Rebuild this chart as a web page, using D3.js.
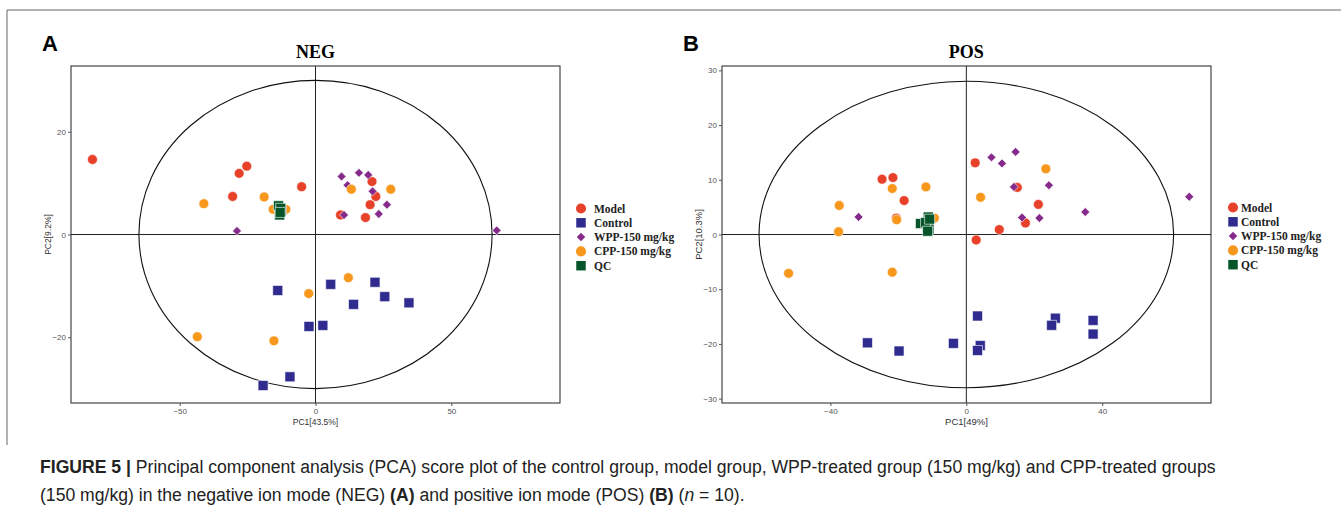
<!DOCTYPE html>
<html>
<head>
<meta charset="utf-8">
<script src="https://cdn.jsdelivr.net/npm/d3@7"></script>
<style>
	body { margin: 0; background: #fff; }
	svg { display: block; }
</style>
</head>
<body>
<svg id="figure" width="1341" height="511"></svg>
<script>
// groups shown in both panels
const groups = ["Model", "Control", "WPP-150 mg/kg", "CPP-150 mg/kg", "QC"];
const groupColors = ["#e8412a", "#2f2b8f", "#862a8c", "#f7981d", "#06552a"];
const groupShapes = ["circle", "square", "diamond", "circle", "square"];

// NEG scores [PC1, PC2]
const negModel = [[-82.1, 14.6], [-25.3, 13.3], [-28.1, 11.9], [-30.5, 7.4], [-5.1, 9.3],
	[20.8, 10.3], [22.2, 7.4], [20.1, 5.8], [9.2, 3.8], [18.4, 3.3]];
const negControl = [[-13.9, -10.9], [-2.4, -17.9], [-9.4, -27.7], [-19.3, -29.4], [5.6, -9.7],
	[21.9, -9.3], [25.5, -12.1], [14.0, -13.6], [34.4, -13.3], [2.7, -17.7]];
const negWPP = [[-28.9, 0.7], [9.6, 11.3], [16.0, 12.0], [19.4, 11.6], [11.8, 9.6],
	[21.0, 8.4], [26.3, 5.8], [10.5, 3.8], [23.3, 4.0], [66.7, 0.8]];
const negCPP = [[-41.1, 6.0], [-18.9, 7.3], [-15.6, 4.9], [-10.9, 4.9], [13.2, 8.8],
	[27.7, 8.8], [-2.5, -11.5], [12.1, -8.4], [-43.5, -19.9], [-15.3, -20.7]];
const negQC = [[-13.6, 5.6], [-12.6, 4.6], [-13.2, 3.8], [-12.8, 5.1], [-13.0, 4.3]];

// POS scores [PC1, PC2]
const posModel = [[-24.8, 10.1], [-21.6, 10.4], [-18.3, 6.2], [-20.6, 3.0], [2.6, 13.1],
	[2.9, -1.0], [15.0, 8.6], [21.2, 5.5], [17.4, 2.1], [9.7, 0.9]];
const posControl = [[-29.1, -19.8], [-19.8, -21.3], [-3.8, -19.9], [3.3, -14.9], [4.1, -20.3],
	[3.3, -21.2], [26.2, -15.3], [25.1, -16.6], [37.3, -15.7], [37.3, -18.2]];
const posWPP = [[-31.7, 3.2], [7.4, 14.1], [10.5, 13.0], [14.5, 15.1], [14.0, 8.7],
	[24.3, 9.0], [35.0, 4.1], [65.6, 6.9], [16.4, 3.1], [21.5, 3.0]];
const posCPP = [[-21.8, 8.4], [-11.9, 8.7], [-37.4, 5.3], [-20.5, 2.7], [-9.4, 3.0],
	[-37.6, 0.5], [4.2, 6.8], [23.4, 12.0], [-52.3, -7.1], [-21.8, -6.9]];
const posQC = [[-13.5, 2.0], [-11.2, 3.2], [-11.0, 1.0], [-12.0, 2.2], [-10.8, 2.8], [-11.4, 0.6]];

const negTicksX = [-50, 0, 50], negTicksY = [-20, 0, 20];
const posTicksX = [-40, 0, 40], posTicksY = [-30, -20, -10, 0, 10, 20, 30];

const svg = d3.select("#figure");

function shapePath(shape) {
	if (shape === "circle") return d3.symbol().type(d3.symbolCircle).size(76)();
	if (shape === "square") return d3.symbol().type(d3.symbolSquare).size(100)();
	return d3.symbol().type(d3.symbolSquare).size(40)();
}

function drawPanel(cfg) {
	const g = svg.append("g");
	const x = d3.scaleLinear().domain(cfg.xDomain).range([cfg.left, cfg.right]);
	const y = d3.scaleLinear().domain(cfg.yDomain).range([cfg.bottom, cfg.top]);

	// frame
	g.append("rect")
		.attr("x", cfg.left).attr("y", cfg.top)
		.attr("width", cfg.right - cfg.left).attr("height", cfg.bottom - cfg.top)
		.attr("fill", "none").attr("stroke", "#333").attr("stroke-width", 1.1);

	// zero lines
	g.append("line")
		.attr("x1", x(0)).attr("x2", x(0)).attr("y1", cfg.top).attr("y2", cfg.bottom)
		.attr("stroke", "#222").attr("stroke-width", 1);
	g.append("line")
		.attr("x1", cfg.left).attr("x2", cfg.right).attr("y1", y(0)).attr("y2", y(0))
		.attr("stroke", "#222").attr("stroke-width", 1);

	// confidence ellipse
	g.append("ellipse")
		.attr("cx", x(0)).attr("cy", y(0))
		.attr("rx", x(cfg.ellipse[0]) - x(0))
		.attr("ry", y(0) - y(cfg.ellipse[1]))
		.attr("fill", "none").attr("stroke", "#111").attr("stroke-width", 1.1);

	// axes
	const xAxis = g.append("g")
		.attr("transform", "translate(0," + cfg.bottom + ")")
		.call(d3.axisBottom(x).tickValues(cfg.ticksX).tickSize(3).tickPadding(2));
	const yAxis = g.append("g")
		.attr("transform", "translate(" + cfg.left + ",0)")
		.call(d3.axisLeft(y).tickValues(cfg.ticksY).tickSize(3).tickPadding(2));
	[xAxis, yAxis].forEach(function(a) {
		a.select(".domain").remove();
		a.selectAll("line").attr("stroke", "#555");
		a.selectAll("text")
			.attr("fill", "#555")
			.style("font-family", "'Liberation Sans', Arial, sans-serif")
			.style("font-size", "8px");
	});

	// axis titles
	g.append("text")
		.attr("x", (cfg.left + cfg.right) / 2).attr("y", cfg.bottom + 22)
		.attr("text-anchor", "middle")
		.style("font-family", "'Liberation Sans', Arial, sans-serif")
		.style("font-size", cfg.titleSize).attr("fill", "#333")
		.text(cfg.xTitle);
	g.append("text")
		.attr("transform", "translate(" + (cfg.left - 20) + "," + ((cfg.top + cfg.bottom) / 2) + ") rotate(-90)")
		.attr("text-anchor", "middle")
		.style("font-family", "'Liberation Sans', Arial, sans-serif")
		.style("font-size", cfg.titleSize).attr("fill", "#333")
		.text(cfg.yTitle);

	// panel title
	g.append("text")
		.attr("x", x(0)).attr("y", cfg.top - 8)
		.attr("text-anchor", "middle")
		.style("font-family", "'Liberation Serif', 'Times New Roman', serif")
		.style("font-weight", "bold").style("font-size", "18px")
		.text(cfg.title);

	// panel letter
	g.append("text")
		.attr("x", cfg.letterX).attr("y", 51)
		.style("font-family", "'Liberation Sans', Arial, sans-serif")
		.style("font-weight", "bold").style("font-size", "22px")
		.text(cfg.letter);

	// points, drawn in legend order
	cfg.series.forEach(function(pts, gi) {
		g.append("g").selectAll("path")
			.data(pts)
			.enter().append("path")
			.attr("d", shapePath(groupShapes[gi]))
			.attr("transform", function(d) {
				return "translate(" + x(d[0]) + "," + y(d[1]) + ")" + (groupShapes[gi] === "diamond" ? " rotate(45)" : "");
			})
			.attr("fill", groupColors[gi])
			.attr("stroke", "#fff").attr("stroke-width", 0.6);
	});

	// legend
	const leg = g.append("g").attr("transform", "translate(" + cfg.legendX + "," + cfg.legendY + ")");
	const rows = leg.selectAll("g").data(groups).enter().append("g")
		.attr("transform", function(d, i) { return "translate(0," + (i * 14.3) + ")"; });
	rows.append("path")
		.attr("d", function(d, i) {
			const s = groupShapes[i];
			if (s === "circle") return d3.symbol().type(d3.symbolCircle).size(80)();
			if (s === "square") return d3.symbol().type(d3.symbolSquare).size(90)();
			return d3.symbol().type(d3.symbolSquare).size(36)();
		})
		.attr("transform", function(d, i) { return groupShapes[i] === "diamond" ? "rotate(45)" : null; })
		.attr("fill", function(d, i) { return groupColors[i]; });
	rows.append("text")
		.attr("x", cfg.legendGap).attr("y", 4)
		.style("font-family", "'Liberation Serif', 'Times New Roman', serif")
		.style("font-weight", "bold").style("font-size", "11.5px")
		.attr("fill", "#222")
		.text(function(d) { return d; });
}

// outer frame of the figure
svg.append("line").attr("x1", 7).attr("x2", 1341).attr("y1", 10).attr("y2", 10)
	.attr("stroke", "#666").attr("stroke-width", 1);
svg.append("line").attr("x1", 7).attr("x2", 7).attr("y1", 10).attr("y2", 445)
	.attr("stroke", "#666").attr("stroke-width", 1);

drawPanel({
	left: 71, right: 560, top: 66, bottom: 403,
	xDomain: [-90, 90], yDomain: [-32.8, 32.8],
	ticksX: negTicksX, ticksY: negTicksY, ellipse: [65, 30],
	xTitle: "PC1[43.5%]", yTitle: "PC2[9.2%]", title: "NEG", titleSize: "8.5px",
	letter: "A", letterX: 42,
	series: [negModel, negControl, negWPP, negCPP, negQC],
	legendX: 581, legendY: 208.5, legendGap: 13
});

drawPanel({
	left: 722, right: 1211, top: 66, bottom: 403,
	xDomain: [-71.9, 72], yDomain: [-30.8, 30.8],
	ticksX: posTicksX, ticksY: posTicksY, ellipse: [61, 28],
	xTitle: "PC1[49%]", yTitle: "PC2[10.3%]", title: "POS", titleSize: "9.5px",
	letter: "B", letterX: 683,
	series: [posModel, posControl, posWPP, posCPP, posQC],
	legendX: 1233, legendY: 207.5, legendGap: 8
});

// caption
const cap = svg.append("g")
	.style("font-family", "'Liberation Sans Narrow', 'Arial Narrow', 'Liberation Sans', sans-serif")
	.style("font-size", "17.6px").attr("fill", "#222");
const l1 = cap.append("text").attr("x", 40).attr("y", 473);
l1.append("tspan").style("font-weight", "bold").text("FIGURE 5 | ");
l1.append("tspan").text("Principal component analysis (PCA) score plot of the control group, model group, WPP-treated group (150 mg/kg) and CPP-treated groups");
const l2 = cap.append("text").attr("x", 40).attr("y", 501);
l2.append("tspan").text("(150 mg/kg) in the negative ion mode (NEG) ");
l2.append("tspan").style("font-weight", "bold").text("(A)");
l2.append("tspan").text(" and positive ion mode (POS) ");
l2.append("tspan").style("font-weight", "bold").text("(B)");
l2.append("tspan").text(" (");
l2.append("tspan").style("font-style", "italic").text("n");
l2.append("tspan").text(" = 10).");
</script>
</body>
</html>
